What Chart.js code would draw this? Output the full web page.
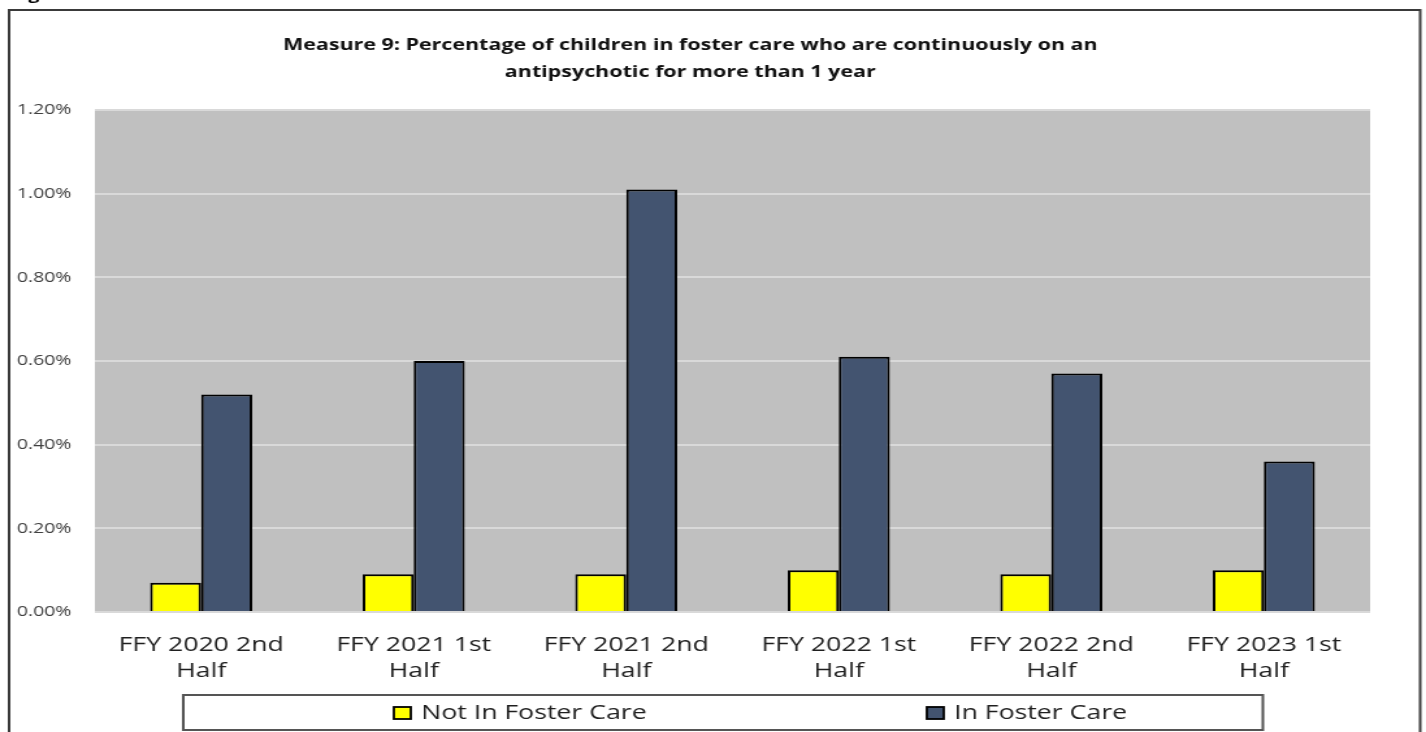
<!DOCTYPE html>
<html>
<head>
<meta charset="utf-8">
<title>Measure 9</title>
<script src="https://cdn.jsdelivr.net/npm/chart.js@4/dist/chart.umd.min.js"></script>
<style>
  html, body { margin: 0; padding: 0; background: #ffffff; overflow: hidden; }
  /* the figure is drawn on a narrower canvas and widened horizontally */
  #wrap {
    position: absolute; left: 0; top: 0;
    width: 1097px; height: 732px;
    transform: scaleX(1.29991);
    transform-origin: 0 0;
  }
</style>
</head>
<body>
<div id="wrap"><canvas id="c" width="1097" height="732"></canvas></div>
<script>
// Reporting periods (two-line axis labels)
const periods = [
  ['FFY 2020 2nd', 'Half'],
  ['FFY 2021 1st', 'Half'],
  ['FFY 2021 2nd', 'Half'],
  ['FFY 2022 1st', 'Half'],
  ['FFY 2022 2nd', 'Half'],
  ['FFY 2023 1st', 'Half']
];

// Percent of children continuously on an antipsychotic > 1 year
const notInFosterCare = [0.07, 0.09, 0.09, 0.10, 0.09, 0.10];
const inFosterCare    = [0.52, 0.60, 1.01, 0.61, 0.57, 0.36];

const seriesNames = ['Not In Foster Care', 'In Foster Care'];

const titleLines = [
  'Measure 9: Percentage of children in foster care who are continuously on an',
  'antipsychotic for more than 1 year'
];

const yMax = 1.2;
const yStep = 0.2;

const FONT = '"Open Sans", "DejaVu Sans", sans-serif';

// Grey plot background, the outer frame and the boxed legend
const decorations = {
  id: 'decorations',
  beforeDraw(chart) {
    const { ctx, chartArea: a } = chart;
    ctx.save();
    ctx.fillStyle = '#ffffff';
    ctx.fillRect(0, 0, chart.width, chart.height);
    ctx.fillStyle = '#c0c0c0';
    ctx.fillRect(a.left, a.top, a.right - a.left, a.bottom - a.top);
    ctx.restore();
  },
  afterDraw(chart) {
    const { ctx } = chart;
    ctx.save();
    // caption line above the frame (mostly cut off)
    ctx.fillStyle = '#000000';
    ctx.font = 'bold 15px ' + FONT;
    ctx.textBaseline = 'alphabetic';
    ctx.textAlign = 'left';
    ctx.fillText('Figure 9', 9, 0);

    // outer frame
    ctx.strokeStyle = '#3a3a3a';
    ctx.lineWidth = 2;
    ctx.beginPath();
    ctx.moveTo(7, 740);
    ctx.lineTo(7, 10);
    ctx.lineTo(1092.5, 10);
    ctx.lineTo(1092.5, 740);
    ctx.stroke();

    // legend box
    ctx.strokeStyle = '#555555';
    ctx.lineWidth = 2;
    ctx.fillStyle = '#ffffff';
    ctx.fillRect(141, 695, 830.5, 35);
    ctx.strokeRect(141, 695, 830.5, 35);

    const items = chart.data.datasets;
    const itemX = [303, 713];
    ctx.font = '20.5px ' + FONT;
    ctx.textBaseline = 'middle';
    items.forEach((ds, i) => {
      const x = itemX[i];
      ctx.fillStyle = ds.backgroundColor;
      ctx.fillRect(x, 707, 13, 12);
      ctx.strokeStyle = '#000000';
      ctx.lineWidth = 1.8;
      ctx.strokeRect(x, 707, 13, 12);
      ctx.fillStyle = '#1f1f1f';
      ctx.fillText(ds.label, x + 21, 713);
    });
    ctx.restore();
  }
};

new Chart(document.getElementById('c'), {
  type: 'bar',
  data: {
    labels: periods,
    datasets: [
      {
        label: seriesNames[0],
        data: notInFosterCare,
        backgroundColor: '#ffff00',
        borderColor: '#000000',
        borderWidth: 2,
        borderSkipped: 'bottom'
      },
      {
        label: seriesNames[1],
        data: inFosterCare,
        backgroundColor: '#435470',
        borderColor: '#000000',
        borderWidth: 2,
        borderSkipped: 'bottom'
      }
    ]
  },
  options: {
    responsive: false,
    animation: false,
    devicePixelRatio: 1,
    layout: { padding: { left: 8, right: 43, top: 10, bottom: 0 } },
    datasets: { bar: { categoryPercentage: 0.48, barPercentage: 1.0 } },
    plugins: {
      legend: { display: false },
      tooltip: { enabled: false },
      title: {
        display: true,
        text: titleLines,
        color: '#111111',
        font: { family: FONT, size: 16.5, weight: 'bold', lineHeight: 1.62 },
        padding: { top: 22, bottom: 24.5 }
      }
    },
    scales: {
      x: {
        grid: { display: false, drawTicks: false },
        border: { display: false },
        ticks: {
          color: '#1f1f1f',
          font: { family: FONT, size: 20.5, lineHeight: 1.27 },
          padding: 20,
          maxRotation: 0,
          autoSkip: false
        },
        afterFit(scale) { scale.height = 120; }
      },
      y: {
        min: 0,
        max: yMax,
        grid: { color: '#d9d9d9', lineWidth: 2, drawTicks: false },
        border: { display: false },
        ticks: {
          stepSize: yStep,
          color: '#404040',
          font: { family: FONT, size: 15 },
          padding: 18,
          callback: v => v.toFixed(2) + '%'
        },
        afterFit(scale) { scale.width = 65; }
      }
    }
  },
  plugins: [decorations]
});
</script>
</body>
</html>
